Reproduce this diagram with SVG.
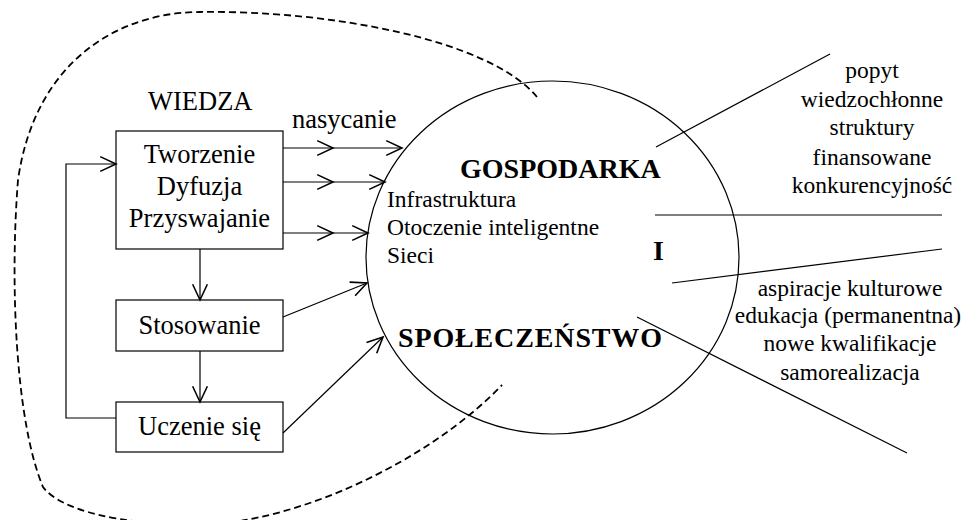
<svg xmlns="http://www.w3.org/2000/svg" width="968" height="520" viewBox="0 0 968 520">
  <style>
    .t { font-family: "Liberation Serif", "Times New Roman", serif; fill: #000; }
    .lg { font-size: 26.5px; }
    .sm { font-size: 23.5px; }
    .bd { font-size: 28px; font-weight: bold; }
    .box { fill: #fff; stroke: #000; stroke-width: 1.2; }
    .ln { fill: none; stroke: #000; stroke-width: 1.2; }
    .dash { fill: none; stroke: #000; stroke-width: 1.8; stroke-dasharray: 7 4; }
  </style>
  <defs>
    <marker id="open" markerUnits="userSpaceOnUse" markerWidth="20" markerHeight="20" viewBox="-17 -9 19 18" refX="0" refY="0" orient="auto">
      <path d="M-15,-7 L0,0 L-15,7" fill="none" stroke="#000" stroke-width="1.5"/>
    </marker>
  </defs>

  <rect width="968" height="520" fill="#fff"/>

  <!-- dashed boundary of the knowledge area -->
  <path id="boundary" class="dash" d="M537,97 C490,40 330,10 200,12 C120,12 35,60 18,180 C10,280 15,420 43,487 C60,510 120,525 200,525 C300,522 430,460 502,385"/>

  <!-- economy / society ellipse -->
  <g id="ellipse">
    <ellipse class="ln" cx="552.5" cy="257.5" rx="186.5" ry="176.5"/>
    <text class="t bd" x="460" y="178">GOSPODARKA</text>
    <text class="t sm" x="387" y="207">Infrastruktura</text>
    <text class="t sm" x="387" y="235">Otoczenie inteligentne</text>
    <text class="t sm" x="387" y="263">Sieci</text>
    <text class="t bd" x="653" y="260">I</text>
    <text class="t bd" x="398" y="347" textLength="264" lengthAdjust="spacing">SPOŁECZEŃSTWO</text>
  </g>

  <text class="t lg" x="148" y="110">WIEDZA</text>

  <g id="box-tworzenie">
    <rect class="box" x="116" y="131" width="167" height="118"/>
    <text class="t lg" x="199.5" y="163" text-anchor="middle">Tworzenie</text>
    <text class="t lg" x="199.5" y="195" text-anchor="middle">Dyfuzja</text>
    <text class="t lg" x="199.5" y="227" text-anchor="middle">Przyswajanie</text>
  </g>
  <g id="box-stosowanie">
    <rect class="box" x="116" y="300" width="167" height="51"/>
    <text class="t lg" x="199.5" y="334" text-anchor="middle">Stosowanie</text>
  </g>
  <g id="box-uczenie">
    <rect class="box" x="116" y="402" width="167" height="50"/>
    <text class="t lg" x="199.5" y="435" text-anchor="middle">Uczenie się</text>
  </g>

  <g id="connectors">
    <text class="t lg" x="292" y="128">nasycanie</text>
    <path class="ln" d="M283,148 L333,148 L402,148" marker-mid="url(#open)" marker-end="url(#open)"/>
    <path class="ln" d="M283,182 L333,182 L385,182" marker-mid="url(#open)" marker-end="url(#open)"/>
    <path class="ln" d="M283,233 L333,233 L368,233" marker-mid="url(#open)" marker-end="url(#open)"/>
    <path class="ln" d="M200,249 L200,300" marker-end="url(#open)"/>
    <path class="ln" d="M200,351 L200,402" marker-end="url(#open)"/>
    <path class="ln" d="M116,418 L66,418 L66,164 L116,164" marker-end="url(#open)"/>
    <path class="ln" d="M283,317 L367,283" marker-end="url(#open)"/>
    <path class="ln" d="M283,433 L383,337" marker-end="url(#open)"/>
    <!-- dividing rays -->
    <path class="ln" d="M656,147 L830,54"/>
    <path class="ln" d="M655,215 L942,215"/>
    <path class="ln" d="M672,283 L942,249"/>
    <path class="ln" d="M637,317 L907,453"/>
  </g>

  <g id="economy-notes">
    <text class="t sm" x="872" y="78" text-anchor="middle">popyt</text>
    <text class="t sm" x="872" y="107" text-anchor="middle">wiedzochłonne</text>
    <text class="t sm" x="872" y="135" text-anchor="middle">struktury</text>
    <text class="t sm" x="872" y="165" text-anchor="middle">finansowane</text>
    <text class="t sm" x="872" y="193" text-anchor="middle">konkurencyjność</text>
  </g>
  <g id="society-notes">
    <text class="t sm" x="850" y="296" text-anchor="middle">aspiracje kulturowe</text>
    <text class="t sm" x="848" y="323" text-anchor="middle">edukacja (permanentna)</text>
    <text class="t sm" x="850" y="351" text-anchor="middle">nowe kwalifikacje</text>
    <text class="t sm" x="850" y="380" text-anchor="middle">samorealizacja</text>
  </g>
</svg>
